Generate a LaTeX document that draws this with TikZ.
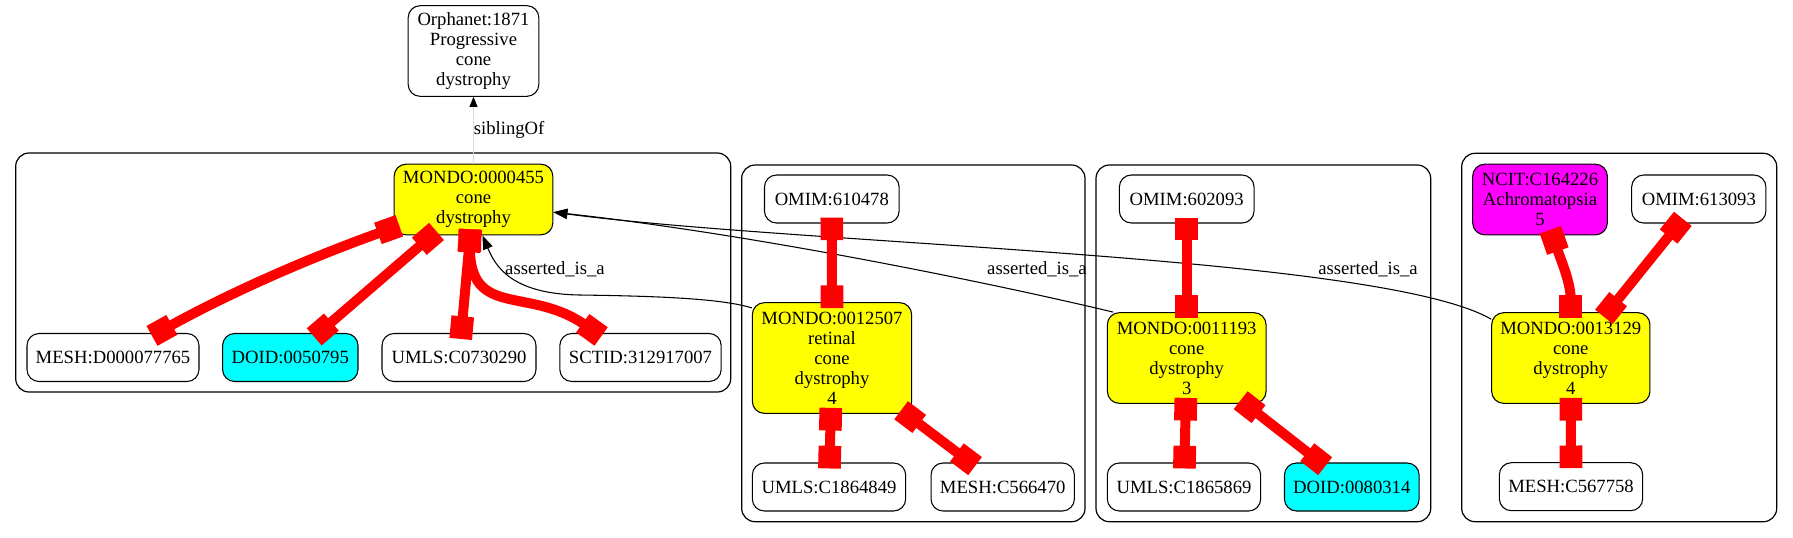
\documentclass[tikz,border=0pt]{standalone}
\usepackage{xcolor}
\usepackage{fontspec}
\setmainfont{Liberation Serif}
\usetikzlibrary{arrows.meta}
\definecolor{gvamarillo}{RGB}{255,255,0}
\definecolor{gvcian}{RGB}{0,255,255}
\definecolor{gvmagenta}{RGB}{255,0,255}
\definecolor{gvrojo}{RGB}{255,0,0}

\begin{document}
\begin{tikzpicture}[x=0.75pt, y=-0.75pt,
  font=\fontsize{14}{15}\selectfont,
  nodo/.style={draw, rounded corners=9pt, align=center, inner sep=0pt, line width=0.8pt, minimum height=36pt},
  grupo/.style={draw, rounded corners=10pt, line width=0.9pt},
  xref/.style={gvrojo, line width=\grosor, {Rectangle[length=\caja,width=\caja]}-{Rectangle[length=\caja,width=\caja]}, shorten <=-4.5pt, shorten >=-4.5pt},
  esun/.style={line width=0.8pt, -{Triangle[length=10.5pt,width=7.5pt]}},
  etiq/.style={inner sep=0pt, text=black}]
% Parámetros de las aristas rojas
\def\grosor{7.5pt}
\def\caja{17pt}

\useasboundingbox (0,0) rectangle (1793,537);

% Grupos (clusters)
\draw[grupo] (15.7,153) rectangle (730.7,392);
\draw[grupo] (741.7,165) rectangle (1085,521.7);
\draw[grupo] (1096,165) rectangle (1430.7,521.7);
\draw[grupo] (1461.7,153.3) rectangle (1776.7,521.7);

% Nodo superior
\node[nodo, minimum width=98pt, minimum height=68pt] (orph) at (473.5,51) {Orphanet:1871\\Progressive\\cone\\dystrophy};

% Grupo 1
\node[nodo, fill=gvamarillo, minimum width=119pt, minimum height=53pt] (m455) at (473.5,199.5) {MONDO:0000455\\cone\\dystrophy};
\node[nodo, minimum width=129pt] (mesh1) at (113,357.5) {MESH:D000077765};
\node[nodo, fill=gvcian, minimum width=101.5pt] (doid1) at (290.3,357.5) {DOID:0050795};
\node[nodo, minimum width=115.5pt] (umls1) at (459,357.5) {UMLS:C0730290};
\node[nodo, minimum width=121pt] (sct1) at (640.5,357.5) {SCTID:312917007};

% Grupo 2
\node[nodo, minimum width=101pt] (omim1) at (831.8,199) {OMIM:610478};
\node[nodo, fill=gvamarillo, minimum width=119.5pt, minimum height=83pt] (m12507) at (832,358) {MONDO:0012507\\retinal\\cone\\dystrophy\\4};
\node[nodo, minimum width=115pt] (umls2) at (829,487) {UMLS:C1864849};
\node[nodo, minimum width=107.5pt] (mesh2) at (1002.7,487) {MESH:C566470};

% Grupo 3
\node[nodo, minimum width=101pt] (omim2) at (1186.7,199) {OMIM:602093};
\node[nodo, fill=gvamarillo, minimum width=119pt, minimum height=68pt] (m11193) at (1186.7,358) {MONDO:0011193\\cone\\dystrophy\\3};
\node[nodo, minimum width=115pt] (umls3) at (1184,487) {UMLS:C1865869};
\node[nodo, fill=gvcian, minimum width=101pt] (doid2) at (1351.8,487) {DOID:0080314};

% Grupo 4
\node[nodo, fill=gvmagenta, minimum width=101pt, minimum height=53pt] (ncit) at (1540,199.5) {NCIT:C164226\\Achromatopsia\\5};
\node[nodo, minimum width=100.7pt] (omim3) at (1698.8,199) {OMIM:613093};
\node[nodo, fill=gvamarillo, minimum width=118.7pt, minimum height=68pt] (m13129) at (1570.8,358) {MONDO:0013129\\cone\\dystrophy\\4};
\node[nodo, minimum width=107.5pt] (mesh3) at (1571,486.7) {MESH:C567758};

% Relación siblingOf
\draw[black!15, line width=0.6pt, -{Triangle[length=7.5pt,width=6pt,color=black]}] (m455) -- (orph) node[midway, right, etiq] {siblingOf};

% Relaciones asserted_is_a
\draw[esun] (m12507.148) .. controls (720,298) and (650,296) .. (580,295) .. controls (510,294) and (495,265) .. (m455.-76);
\draw[esun] (m11193.148) .. controls (1000,285) and (760,235) .. (m455.-9);
\draw[esun] (m13129.154) .. controls (1380,255) and (800,245) .. (m455.-9);
\node[etiq] (t1) at (555,269) {asserted\_is\_a};
\node[etiq] (t2) at (1037,269) {asserted\_is\_a};
\node[etiq] (t3) at (1368,269) {asserted\_is\_a};

% Aristas rojas (equivalencias)
\draw[xref] (m455) .. controls (310,257.5) and (230.3,292.5) .. (mesh1);
\draw[xref] (m455) -- (doid1);
\draw[xref] (m455) -- (umls1);
\draw[xref] (m455.-96) .. controls (470,320) and (530,285) .. (sct1.151);
\draw[xref] (omim1) -- (m12507);
\draw[xref] (m12507) -- (umls2);
\draw[xref] (m12507) -- (mesh2);
\draw[xref] (omim2) -- (m11193);
\draw[xref] (m11193) -- (umls3);
\draw[xref] (m11193) -- (doid2);
\draw[xref] (ncit.-71) .. controls (1562,263) and (1570.8,283) .. (m13129.north);
\draw[xref] (omim3) -- (m13129);
\draw[xref] (m13129) -- (mesh3);

\end{tikzpicture}
\end{document}
